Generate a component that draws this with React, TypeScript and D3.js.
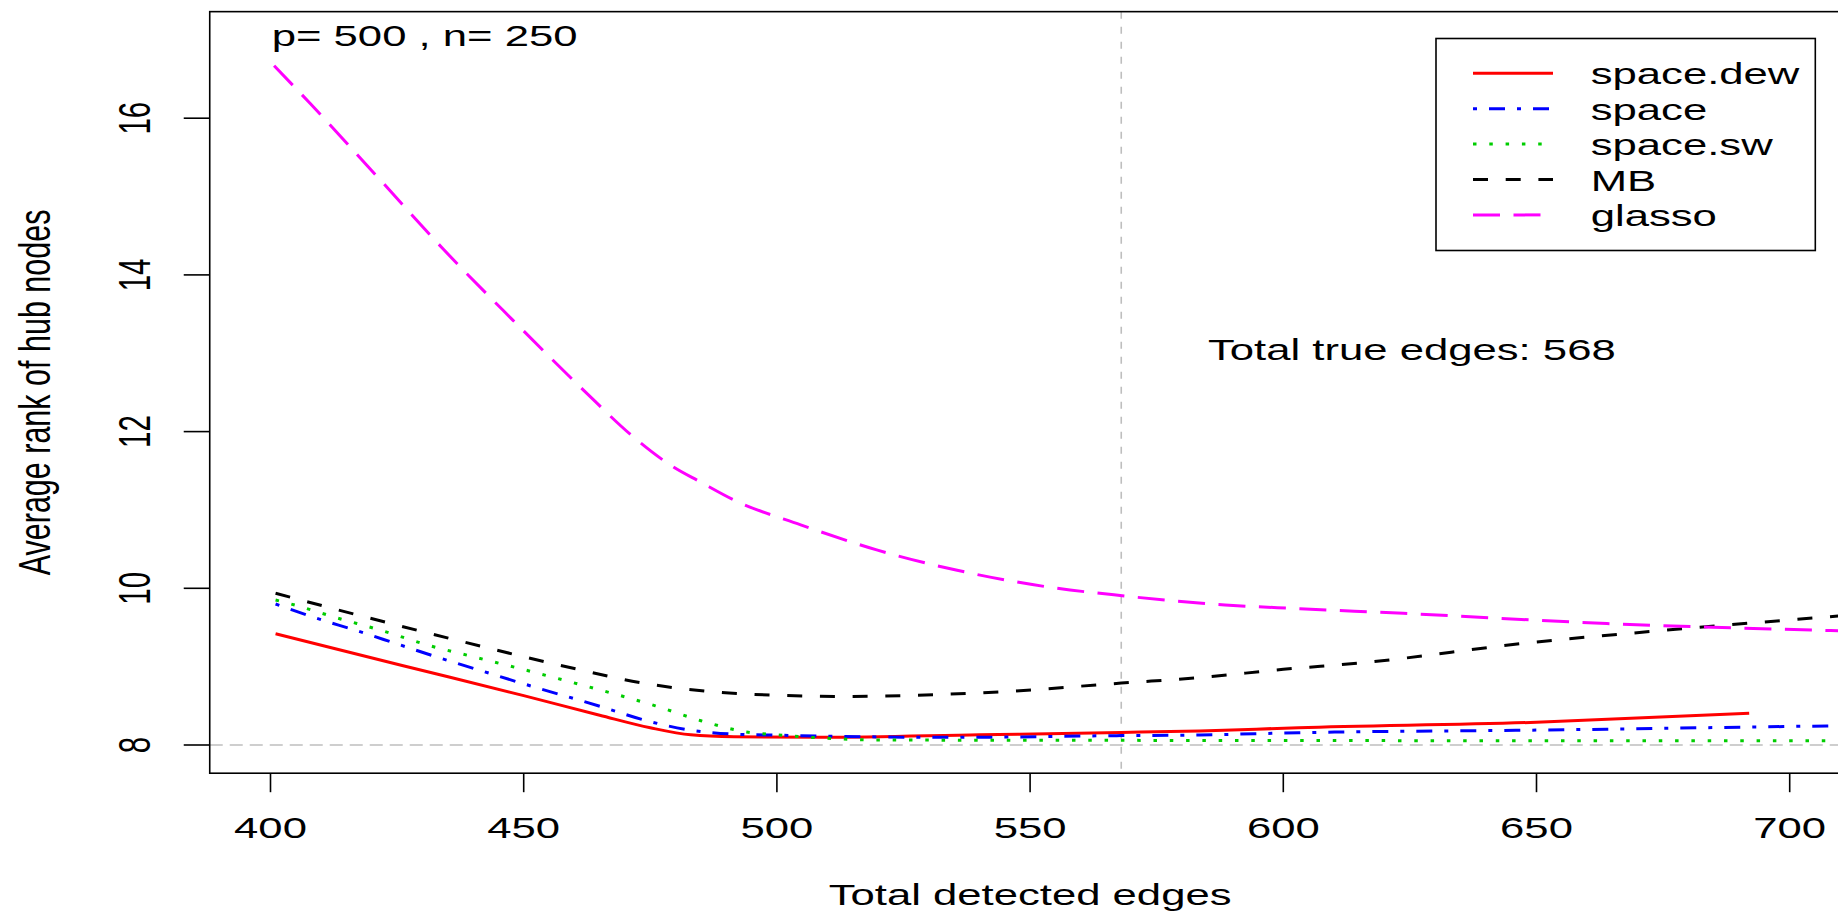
import React from 'react';
import * as d3 from 'd3';

// series (x = total detected edges, y = average rank)
const dewX = [401, 413, 426, 450, 465, 475, 483, 491.5, 509, 540, 568, 583.5, 603, 650, 692];
const dewY = [9.42, 9.225, 9.015, 8.63, 8.38, 8.22, 8.13, 8.106, 8.098, 8.13, 8.16, 8.18, 8.22, 8.29, 8.405];

const spaceX = [401, 409, 417, 425, 433, 441, 449, 465.5, 474, 482, 491, 500, 536, 568, 583.5, 603, 650, 709, 720];
const spaceY = [9.8, 9.62, 9.46, 9.29, 9.12, 8.96, 8.8, 8.485, 8.315, 8.2, 8.14, 8.125, 8.098, 8.12, 8.128, 8.157, 8.19, 8.245, 8.255];

const swX = [401, 404, 413, 422, 431, 440, 449, 458, 467, 476, 485, 494, 500, 510, 520, 560, 600, 650, 700, 720];
const swY = [9.85, 9.8, 9.625, 9.46, 9.276, 9.127, 8.98, 8.826, 8.668, 8.5, 8.31, 8.166, 8.13, 8.085, 8.064, 8.06, 8.057, 8.055, 8.055, 8.055];

const mbX = [401, 420.5, 438.5, 457, 475, 487.7, 500.3, 512.6, 544.4, 568, 583.5, 600, 615.7, 647.8, 680, 706.5, 720];
const mbY = [9.936, 9.604, 9.31, 9.02, 8.775, 8.676, 8.634, 8.62, 8.68, 8.79, 8.86, 8.966, 9.05, 9.3, 9.49, 9.63, 9.7];

const glassoX = [400.7, 407.8, 421, 434.1, 447.9, 461.8, 471.6, 479.5, 484.8, 491.5, 504.7, 519.7, 535.6, 553.2, 568.2, 588.5, 603.3, 623.7, 663.9, 708.1, 720];
const glassoY = [16.67, 16.19, 15.26, 14.33, 13.42, 12.53, 11.935, 11.55, 11.36, 11.127, 10.81, 10.49, 10.23, 10.02, 9.905, 9.787, 9.74, 9.68, 9.55, 9.46, 9.44];

const seriesNames = ['space.dew', 'space', 'space.sw', 'MB', 'glasso'];
const xTicks = [400, 450, 500, 550, 600, 650, 700];
const yTicks = [8, 10, 12, 14, 16];
const trueEdges = 568;
const refRank = 8;

const FONT = "'Liberation Sans', Arial, Helvetica, sans-serif";
const FS = 29.5;
const SX = 1.48; // the reference is stretched horizontally

const styles = [
  { color: '#ff0000', dash: null },
  { color: '#0000ff', dash: '4 12 16 12' },
  { color: '#00cd00', dash: '3.5 12.8' },
  { color: '#000000', dash: '15 17.7' },
  { color: '#ff00ff', dash: '27 13.5' },
];

const St = ({ x, y, anchor = 'start', rot = false, size = FS, children }: any) => (
  <text
    transform={`translate(${x},${y}) scale(${SX},1)${rot ? ' rotate(-90)' : ''}`}
    textAnchor={anchor}
    fontSize={size}
    fill="#000"
  >
    {children}
  </text>
);

export default function App() {
  const W = 1838;
  const H = 915;

  const x = d3.scaleLinear().domain([400, 700]).range([270.5, 1789.7]);
  const y = d3.scaleLinear().domain([8, 16]).range([745, 118.2]);

  const left = x(388);
  const right = x(712);
  const top = y(17.36);
  const bottom = y(7.64);

  const line = d3
    .line<[number, number]>()
    .x((d) => x(d[0]))
    .y((d) => y(d[1]))
    .curve(d3.curveMonotoneX);

  const data = [
    [dewX, dewY],
    [spaceX, spaceY],
    [swX, swY],
    [mbX, mbY],
    [glassoX, glassoY],
  ].map(([xs, ys]) => xs.map((v, i) => [v, ys[i]] as [number, number]));

  const legX0 = 1436;
  const legY0 = 38.5;
  const legRow = (i: number) => 73.3 + i * 35.4;

  return (
    <svg
      width={W}
      height={H}
      style={{ position: 'absolute', left: 0, top: 0, background: '#fff' }}
      fontFamily={FONT}
    >
      <defs>
        <clipPath id="plot">
          <rect x={left} y={top} width={right - left} height={bottom - top} />
        </clipPath>
      </defs>

      {/* reference lines */}
      <g clipPath="url(#plot)" stroke="#bebebe" strokeWidth={1.6} fill="none">
        <line x1={left} x2={right} y1={y(refRank)} y2={y(refRank)} strokeDasharray="13 7" />
        <line x1={x(trueEdges)} x2={x(trueEdges)} y1={top} y2={bottom} strokeDasharray="7 8" />
      </g>

      {/* series */}
      <g clipPath="url(#plot)" fill="none">
        {data.map((pts, i) => (
          <path
            key={seriesNames[i]}
            d={line(pts) || ''}
            stroke={styles[i].color}
            strokeWidth={3}
            strokeDasharray={styles[i].dash || undefined}
            strokeLinejoin="round"
          />
        ))}
      </g>

      {/* frame */}
      <rect x={left} y={top} width={right - left} height={bottom - top} fill="none" stroke="#000" strokeWidth={1.6} />

      {/* x axis */}
      <g>
        {xTicks.map((t) => (
          <g key={t}>
            <line x1={x(t)} x2={x(t)} y1={bottom} y2={bottom + 19} stroke="#000" strokeWidth={1.6} />
            <St x={x(t)} y={837.5} anchor="middle">{t}</St>
          </g>
        ))}
        <St x={(left + right) / 2} y={905} anchor="middle">Total detected edges</St>
      </g>

      {/* y axis */}
      <g>
        {yTicks.map((t) => (
          <g key={t}>
            <line x1={left - 26} x2={left} y1={y(t)} y2={y(t)} stroke="#000" strokeWidth={1.6} />
            <St x={149.6} y={y(t)} anchor="middle" rot>{t}</St>
          </g>
        ))}
        <St x={50} y={(top + bottom) / 2} anchor="middle" rot size={30.5}>Average rank of hub nodes</St>
      </g>

      {/* annotations */}
      <St x={271.7} y={46}>p= 500 , n= 250</St>
      <St x={1208} y={360}>Total true edges: {trueEdges}</St>

      {/* legend */}
      <rect x={legX0} y={legY0} width={1815.3 - legX0} height={250.5 - legY0} fill="#fff" stroke="#000" strokeWidth={1.6} />
      {seriesNames.map((name, i) => (
        <g key={name}>
          <line
            x1={1473}
            x2={1553}
            y1={legRow(i)}
            y2={legRow(i)}
            stroke={styles[i].color}
            strokeWidth={3}
            strokeDasharray={styles[i].dash || undefined}
          />
          <St x={1590.7} y={legRow(i) + 11}>{name}</St>
        </g>
      ))}
    </svg>
  );
}
